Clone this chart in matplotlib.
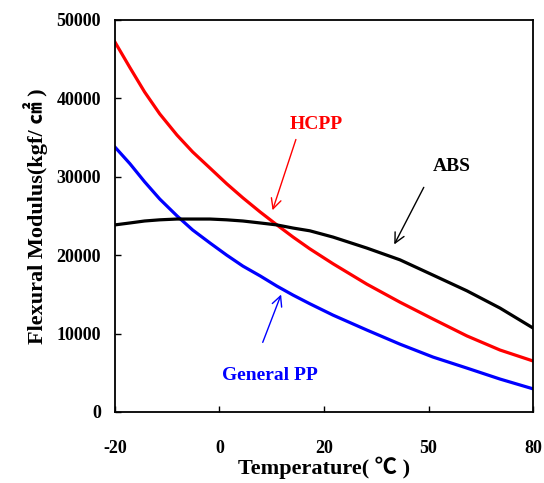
import numpy as np
import matplotlib
matplotlib.use("Agg")
import matplotlib.pyplot as plt

# temperature (deg C) sampled along the curves
temp = [-20, -17.1, -14.3, -11.4, -8.1, -5.1, -1.8, 1.4, 4.5, 7.8, 11.0, 14.1, 17.3,
        22.6, 32.3, 41.8, 51.3, 61.0, 70.5, 80]

hcpp = [47200, 43900, 40800, 38000, 35300, 33150, 31100, 29100, 27300, 25500, 23850,
        22300, 20800, 18900, 16300, 14000, 11850, 9700, 7900, 6500]
general_pp = [33800, 31650, 29350, 27150, 25000, 23200, 21550, 20000, 18600, 17350,
              16050, 14900, 13800, 12350, 10450, 8650, 7000, 5600, 4200, 2950]
abs_ = [23850, 24100, 24350, 24500, 24600, 24600, 24600, 24500, 24350, 24100, 23850,
        23450, 23100, 22300, 20900, 19400, 17450, 15450, 13250, 10700]

x_ticks = [-20, 0, 20, 50, 80]
x_tick_pos = [0, 1, 2, 3, 4]
y_ticks = [0, 10000, 20000, 30000, 40000, 50000]

plt.rcParams['font.family'] = ['Liberation Serif', 'Noto Sans CJK SC']
plt.rcParams['font.weight'] = 'bold'


def fwd(t):
    return np.interp(t, x_ticks, x_tick_pos)


def inv(p):
    return np.interp(p, x_tick_pos, x_ticks)


fig = plt.figure(figsize=(5.44, 4.83), dpi=100)
ax = fig.add_axes([0.211, 0.147, 0.769, 0.812])
ax.set_xscale('function', functions=(fwd, inv))

ax.plot(temp, hcpp, color='#ff0000', lw=2.3)
ax.plot(temp, general_pp, color='#0000ff', lw=2.3)
ax.plot(temp, abs_, color='black', lw=2.3)

ax.set_xlim(-20, 80)
ax.set_ylim(0, 50000)
ax.set_xticks(x_ticks)
ax.set_xticklabels([str(t) for t in x_ticks])
ax.set_yticks(y_ticks)
ax.set_yticklabels([str(t) for t in y_ticks])
ax.tick_params(axis='both', direction='in', length=4, width=1, labelsize=13)
ax.tick_params(axis='x', pad=20)
ax.tick_params(axis='y', pad=10)
for s in ax.spines.values():
    s.set_linewidth(1.3)

ax.set_xlabel('Temperature( ℃ )', fontsize=16, fontweight='bold', labelpad=0)
ax.set_ylabel('Flexural Modulus(kgf/ ㎠ )', fontsize=16, fontweight='bold', labelpad=6)

# annotations
arrow = dict(arrowstyle='->', lw=1, mutation_scale=18)
ax.annotate('', xy=(10, 25383), xytext=(14.8, 35077),
            arrowprops=dict(arrow, color='#ff0000'))
ax.text(18.5, 36607, 'HCPP', color='#ff0000', fontsize=14, fontweight='bold',
        ha='center', va='center')

ax.annotate('', xy=(39.8, 21046), xytext=(49, 28954),
            arrowprops=dict(arrow, color='black'))
ax.text(56.8, 31250, 'ABS', color='black', fontsize=14, fontweight='bold',
        ha='center', va='center')

ax.annotate('', xy=(12, 15306), xytext=(8.1, 8546),
            arrowprops=dict(arrow, color='#0000ff'))
ax.text(9.7, 4592, 'General PP', color='#0000ff', fontsize=14, fontweight='bold',
        ha='center', va='center')

fig.savefig('out.png', dpi=100)
